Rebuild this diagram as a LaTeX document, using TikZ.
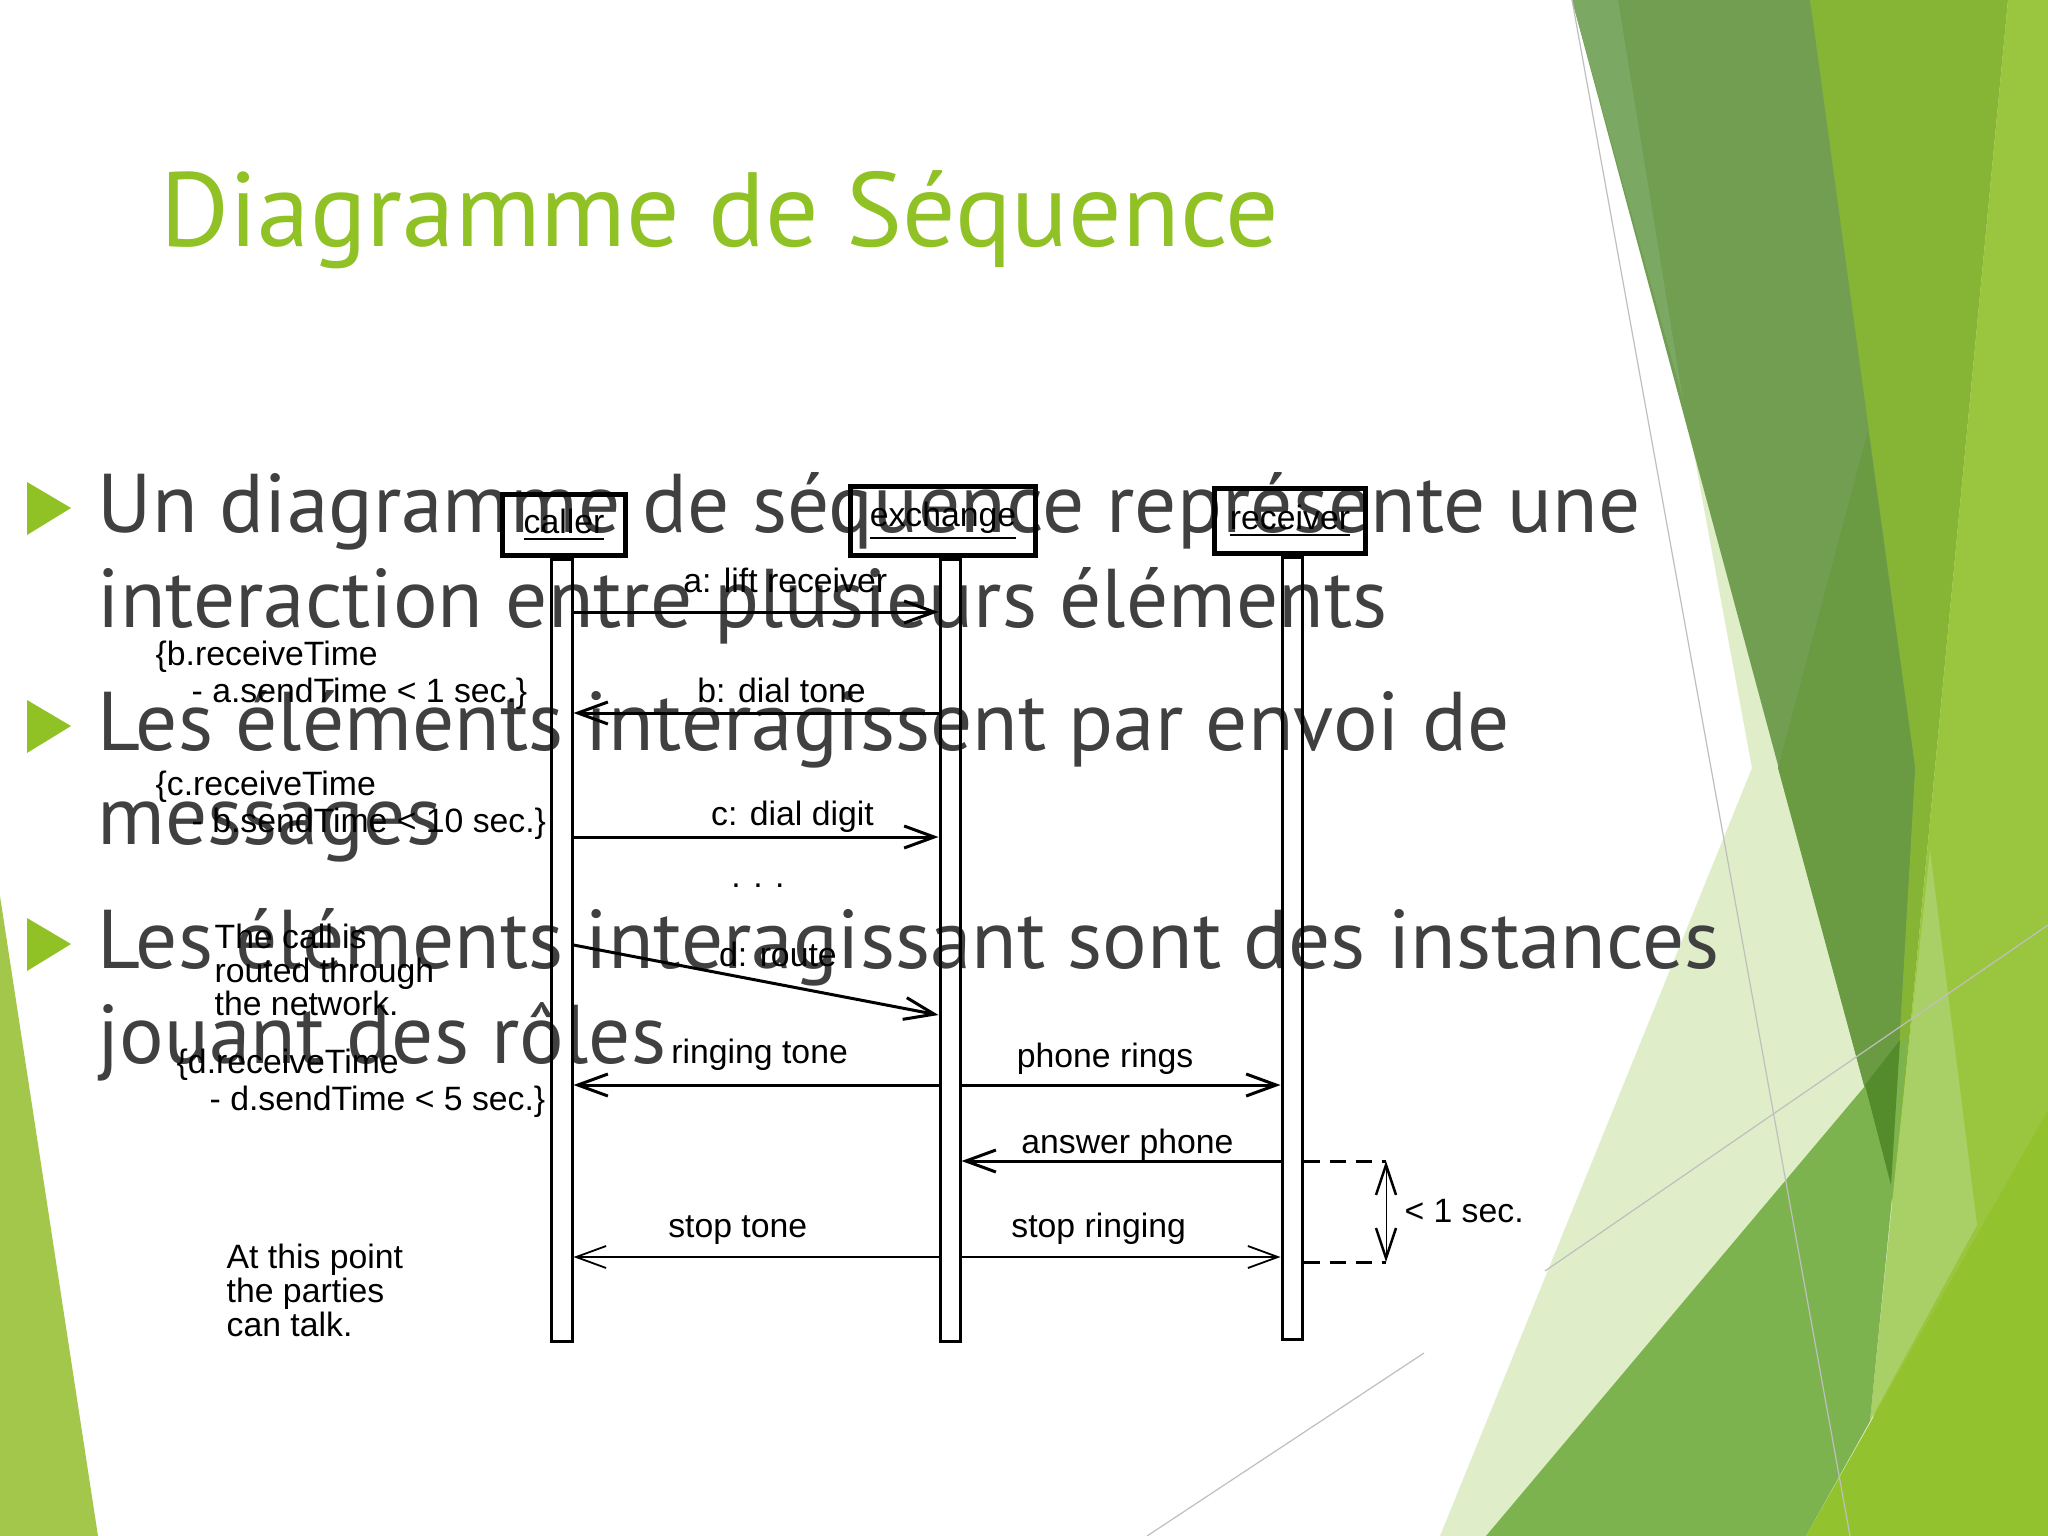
\documentclass[tikz,border=0pt]{standalone}
\usepackage{fontspec}
\setmainfont{PT Sans}
\newfontfamily\umlfont{Liberation Sans}
\usetikzlibrary{positioning,arrows.meta}

\definecolor{facetgreen}{HTML}{90C226}
\definecolor{bodygray}{HTML}{404040}
\definecolor{palegreen}{HTML}{DFEDC9}
\definecolor{darkgreen}{HTML}{729E52}
\definecolor{stripgreen}{HTML}{7BA862}
\definecolor{deepgreen}{HTML}{6A9A42}
\definecolor{vdarkgreen}{HTML}{558C2B}
\definecolor{brightgreen}{HTML}{86B535}
\definecolor{lightgreen}{HTML}{9AC63F}
\definecolor{lightpale}{HTML}{A8D067}
\definecolor{midgreen}{HTML}{7CB34E}
\definecolor{grassgreen}{HTML}{93C22F}
\definecolor{leftgreen}{HTML}{A2C74B}
\definecolor{lineshade}{HTML}{BFBFBF}

\begin{document}
\begin{tikzpicture}[x=0.01cm, y=-0.01cm,
  >={Straight Barb[length=0.3cm, width=0.22cm]},
  actor/.style={draw, line width=0.05cm, inner sep=0pt,
    font=\umlfont\fontsize{9.6}{9.6}\selectfont},
  lifebar/.style={draw, line width=0.03cm, inner sep=0pt,
    minimum width=0.2cm, minimum height=7.82cm},
  msg/.style={->, line width=0.03cm},
  msgthin/.style={->, line width=0.018cm},
  msglabel/.style={font=\umlfont\fontsize{9.6}{9.6}\selectfont,
    inner sep=0pt, anchor=base, yshift=#1},
  msglabel/.default=0.18cm,
  note/.style={font=\umlfont\fontsize{9.6}{9.6}\selectfont,
    inner sep=0pt, anchor=base west},
  timing/.style={dash pattern=on 0.16cm off 0.1cm, line width=0.03cm},
  timearrow/.style={{Straight Barb[length=0.3cm, width=0.2cm, line width=0.025cm]}-{Straight Barb[length=0.3cm, width=0.2cm, line width=0.025cm]}, line width=0.01cm},
  slideline/.style={font=\fontsize{23.7}{28}\selectfont, text=bodygray,
    inner sep=0pt, anchor=base west},
  tribullet/.style={fill=facetgreen},
  greyline/.style={draw=lineshade, line width=0.012cm}]

  \useasboundingbox (0,0) rectangle (2048,1536);
  \fill[white] (0,0) rectangle (2048,1536);

  % facets on the right
  \fill[palegreen] (1610,0) -- (1752,768) -- (1440,1536) -- (2048,1536) -- (2048,0) -- cycle;
  \fill[brightgreen] (1810,0) -- (2008,0) -- (1893,1210) -- cycle;
  \fill[darkgreen] (1572,0) -- (1810,0) -- (1915,768) -- (1891,1185) -- cycle;
  \fill[stripgreen] (1572,0) -- (1618,0) -- (1683,400) -- cycle;
  \fill[deepgreen] (1868,431) -- (1915,768) -- (1891,1185) -- (1778,768) -- cycle;
  \fill[lightgreen] (2008,0) -- (2048,0) -- (2048,1536) -- (1862,1536) -- cycle;
  \fill[lightpale] (1930,850) -- (1977,1225) -- (1870,1421) -- (1895,1175) -- cycle;
  \fill[midgreen] (1486,1536) -- (1908,1035) -- (1870,1421) -- (1806,1536) -- cycle;
  \fill[vdarkgreen] (1865,1085) -- (1900,1040) -- (1891,1185) -- cycle;
  \fill[grassgreen] (1806,1536) -- (2048,1110) -- (2048,1536) -- cycle;
  \fill[leftgreen] (0,896) -- (98,1536) -- (0,1536) -- cycle;
  \draw[greyline] (1572,0) -- (1850,1536);
  \draw[greyline] (1147,1536) -- (1424,1353);
  \draw[greyline] (1545,1271) -- (2048,925);

  % slide text
  \node[font=\fontsize{30}{30}\selectfont, text=facetgreen, inner sep=0pt,
        anchor=base west] (title) at (160,246) {Diagramme de Séquence};

  \fill[tribullet] (27,482) -- (71,508) -- (27,535) -- cycle;
  \fill[tribullet] (27,700) -- (71,726) -- (27,753) -- cycle;
  \fill[tribullet] (27,918) -- (71,944) -- (27,971) -- cycle;
  \node[slideline] (line1) at (97,532) {Un diagramme de séquence représente une};
  \node[slideline] (line2) at (97,627) {interaction entre plusieurs éléments};
  \node[slideline] (line3) at (97,750) {Les éléments interagissent par envoi de};
  \node[slideline] (line4) at (97,844) {messages};
  \node[slideline] (line5) at (97,968) {Les éléments interagissant sont des instances};
  \node[slideline] (line6) at (97,1063) {jouant des rôles};

  % instances and their bars
  \node[actor, minimum width=1.23cm, minimum height=0.61cm] (caller) at (564,525) {\underline{caller}};
  \node[actor, minimum width=1.84cm, minimum height=0.68cm] (exchange) at (943,521) {\underline{exchange}};
  \node[actor, minimum width=1.50cm, minimum height=0.64cm] (receiver) at (1290,521) {\underline{receiver}};

  \node[lifebar, below=0pt of caller, xshift=-0.02cm] (callbar) {};
  \node[lifebar, below=0pt of exchange, xshift=0.07cm] (exbar) {};
  \node[lifebar, below=0pt of receiver, xshift=0.02cm] (recbar) {};

  % messages
  \draw[msg] (callbar.east |- 0,612) -- (exbar.west |- 0,612) node[msglabel=0.19cm, pos=0.58] {a: lift receiver};
  \draw[msg] (exbar.west |- 0,713) -- (callbar.east |- 0,713) node[msglabel=0.11cm, pos=0.43] {b: dial tone};
  \draw[msg] (callbar.east |- 0,837) -- (exbar.west |- 0,837) node[msglabel=0.12cm, pos=0.60] {c: dial digit};
  \node[msglabel=0cm] (dots) at (758,887) {. . .};
  \draw[msg] (callbar.east |- 0,945) -- (exbar.west |- 0,1015) node[msglabel, pos=0.56] {d: route};
  \draw[msg] (exbar.west |- 0,1085) -- (callbar.east |- 0,1085) node[msglabel=0.22cm, pos=0.49] {ringing tone};
  \draw[msg] (exbar.east |- 0,1085) -- (recbar.west |- 0,1085) node[msglabel, pos=0.45] {phone rings};
  \draw[msg] (recbar.west |- 0,1161) -- (exbar.east |- 0,1161) node[msglabel=0.08cm, pos=0.48] {answer phone};
  \draw[msgthin] (exbar.west |- 0,1257) -- (callbar.east |- 0,1257) node[msglabel=0.2cm, pos=0.55] {stop tone};
  \draw[msgthin] (exbar.east |- 0,1257) -- (recbar.west |- 0,1257) node[msglabel=0.2cm, pos=0.43] {stop ringing};

  % timing constraint
  \coordinate (tstart) at (1386,1161);
  \coordinate (tend) at (1386,1262);
  \draw[timing] (recbar.east |- tstart) -- (tstart);
  \draw[timing] (recbar.east |- tend) -- (tend);
  \draw[timearrow] (tstart) -- (tend) node[note, midway, anchor=west, xshift=0.18cm] {< 1 sec.};

  % notes
  \node[note] (bnote) at (155,665) {\{b.receiveTime};
  \node[note] (bnotex) at (191,702) {- a.sendTime < 1 sec.\}};
  \node[note] (cnote) at (155,795) {\{c.receiveTime};
  \node[note] (cnotex) at (191,832) {- b.sendTime < 10 sec.\}};
  \node[note] (callnote) at (214,948) {The call is};
  \node[note] (callnotex) at (214,982) {routed through};
  \node[note] (callnotey) at (214,1015) {the network.};
  \node[note] (dnote) at (176,1073) {\{d.receiveTime};
  \node[note] (dnotex) at (209,1110) {- d.sendTime < 5 sec.\}};
  \node[note] (talknote) at (226,1268) {At this point};
  \node[note] (talknotex) at (226,1302) {the parties};
  \node[note] (talknotey) at (226,1336) {can talk.};

\end{tikzpicture}
\end{document}
